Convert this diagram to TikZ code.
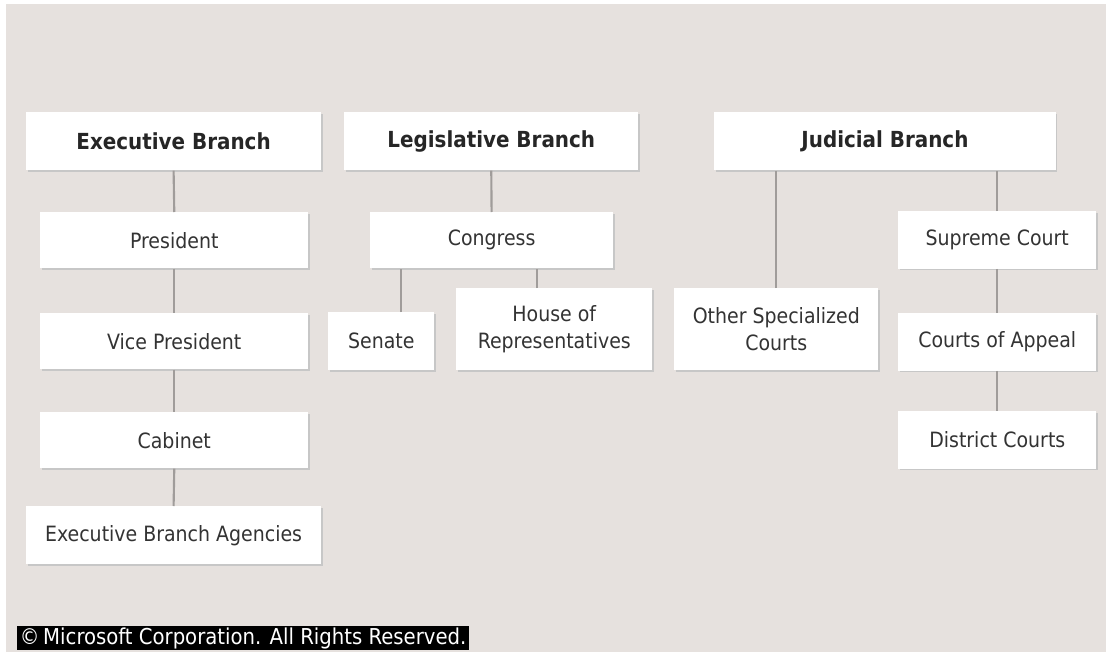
\documentclass[tikz,border=0pt]{standalone}
\usepackage{fontspec}
\setmainfont{DejaVu Sans Condensed}
\usepackage{xcolor}
\usepackage{tikz}
\usetikzlibrary{positioning}
\usetikzlibrary{shadows}
\definecolor{chartbg}{HTML}{E6E1DE}
\definecolor{linkgray}{HTML}{A09C9A}
\definecolor{boxtext}{HTML}{333333}

\begin{document}
\begin{tikzpicture}[
	x=0.75pt, y=-0.75pt,
	font=\fontsize{15.8}{20}\selectfont
]
\tikzset{
    orgbox/.style = {rectangle, fill=white, align=center, anchor=north west, text=boxtext, inner sep=0pt, drop shadow={shadow xshift=1.2pt, shadow yshift=-1.2pt, fill=black!22, opacity=1}},
    headbox/.style = {orgbox, text=black!85, font=\fontsize{16.6}{20}\selectfont\bfseries},
    link/.style = {draw=linkgray, line width=1.6pt}
}
\fill[white] (0,0) rectangle (1106,656);
\fill[chartbg] (6,4) rectangle (1106,652);
\useasboundingbox (0,0) rectangle (1106,656);
% branches
\node[headbox,minimum width=221pt,minimum height=43.5pt] (exec) at (26,112) {Executive Branch};
\node[headbox,minimum width=220.5pt,minimum height=43.5pt] (leg) at (344,112) {Legislative Branch};
\node[headbox,minimum width=256pt,minimum height=43.5pt] (jud) at (714,112) {Judicial Branch};
% executive
\node[orgbox,minimum width=201pt,minimum height=42pt] (pres) at (40,212) {President};
\node[orgbox,minimum width=201pt,minimum height=42pt] (vice) at (40,313) {Vice President};
\node[orgbox,minimum width=201pt,minimum height=42pt] (cab) at (40,412) {Cabinet};
\node[orgbox,minimum width=221pt,minimum height=43.5pt] (agen) at (26,506) {Executive Branch Agencies};
% legislative
\node[orgbox,minimum width=182pt,minimum height=42pt] (cong) at (370,212) {Congress};
\node[orgbox,minimum width=79.5pt,minimum height=43.5pt] (sen) at (328,312) {Senate};
\node[orgbox,minimum width=147pt,minimum height=61.5pt] (house) at (456,288) {House of\\Representatives};
% judicial
\node[orgbox,minimum width=153pt,minimum height=61.5pt] (other) at (674,288) {Other Specialized\\Courts};
\node[orgbox,minimum width=148.5pt,minimum height=43pt] (supr) at (898,211) {Supreme Court};
\node[orgbox,minimum width=148.5pt,minimum height=43pt] (appeal) at (898,313) {Courts of Appeal};
\node[orgbox,minimum width=148.5pt,minimum height=43pt] (dist) at (898,411) {District Courts};
% links
\draw[link] (exec.south) -- (pres.north);
\draw[link] (pres.south) -- (vice.north);
\draw[link] (vice.south) -- (cab.north);
\draw[link] (cab.south) -- (agen.north);
\draw[link] (leg.south) -- (cong.north);
\draw[link] ([xshift=15pt]sen.north) -- ([xshift=15pt]sen.north |- cong.south);
\draw[link] ([xshift=-12.75pt]house.north) -- ([xshift=-12.75pt]house.north |- cong.south);
\draw[link] (other.north) -- (other.north |- jud.south);
\draw[link] (supr.north) -- (supr.north |- jud.south);
\draw[link] (supr.south) -- (appeal.north);
\draw[link] (appeal.south) -- (dist.north);
% footer
\node[fill=black,text=white,anchor=north west,inner xsep=2pt,inner ysep=0pt,minimum height=18pt,font=\fontsize{16.4}{18}\selectfont] (copy) at (17,626) {©\,Microsoft Corporation. All Rights Reserved.};
\end{tikzpicture}
\end{document}
